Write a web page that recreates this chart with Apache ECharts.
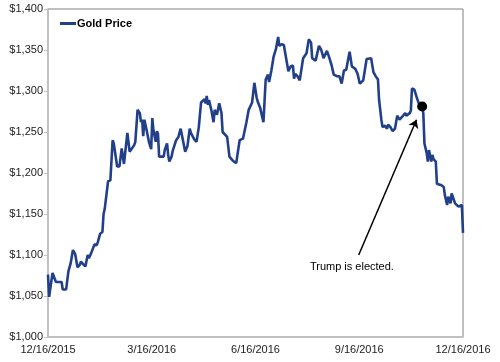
<!DOCTYPE html>
<html>
<head>
<meta charset="utf-8">
<script src="https://cdn.jsdelivr.net/npm/echarts@6/dist/echarts.min.js"></script>
<style>html,body{margin:0;padding:0;background:#fff}#c{width:500px;height:362px}</style>
</head>
<body>
<div id="c"></div>
<script>
// Days since 12/16/2015
const dayOffsets = [0,1,4,7,12,13,16,18,19,20,22,24,25,26,28,29,31,33,35,36,38,41,43,44,46,48,49,50,53,55,57,58,61,63,65,67,70,72,76,77,79,81,82,83,84,85,87,89,91,92,93,95,96,97,98,102,103,105,106,107,109,110,111,113,115,117,118,121,123,125,126,129,131,133,135,136,138,139,140,141,142,144,146,147,149,151,153,154,158,160,163,166,169,172,175,177,180,182,184,185,187,190,192,194,195,197,199,201,203,204,206,208,210,212,214,216,217,218,220,222,225,228,229,230,232,233,236,239,241,243,246,248,250,252,255,257,259,261,263,266,268,271,273,275,278,279,281,285,287,289,291,292,294,295,297,299,300,302,304,306,308,310,312,313,315,316,319,320,321,323,325,327,328,330,331,332,334,335,336,338,339,340,342,343,344,347,349,350,352,353,355,356,357,359,360,362,363,365,366];
const goldPrice = [1076,1049,1078,1067,1067,1058,1058,1080,1078,1090,1106,1101,1101,1085,1088,1092,1089,1086,1100,1096,1102,1113,1112,1116,1126,1128,1150,1156,1190,1191,1240,1236,1208,1208,1230,1211,1249,1226,1234,1238,1277,1273,1262,1265,1245,1265,1252,1238,1229,1267,1252,1238,1251,1248,1220,1220,1228,1236,1222,1214,1220,1227,1225,1240,1244,1254,1252,1226,1233,1254,1249,1241,1238,1256,1286,1286,1290,1285,1294,1283,1289,1277,1262,1277,1271,1285,1273,1250,1244,1220,1215,1212,1240,1242,1262,1277,1286,1310,1292,1287,1280,1262,1314,1320,1311,1325,1342,1351,1366,1355,1357,1356,1340,1324,1330,1331,1315,1321,1318,1313,1340,1346,1348,1363,1359,1340,1337,1355,1350,1340,1349,1341,1332,1320,1318,1318,1309,1325,1326,1348,1330,1327,1321,1309,1313,1314,1339,1340,1323,1318,1314,1289,1265,1256,1258,1254,1259,1256,1251,1254,1270,1265,1268,1266,1273,1270,1273,1276,1303,1302,1293,1285,1283,1281,1273,1236,1224,1214,1228,1214,1222,1217,1214,1187,1185,1185,1183,1173,1161,1171,1163,1175,1171,1163,1161,1159,1157,1161,1127];
const xTickLabels = ['12/16/2015','3/16/2016','6/16/2016','9/16/2016','12/16/2016'];
const electionPoint = [330, 1281];
const annotationText = 'Trump is elected.';
const arrowStart = [274, 1100];
const arrowEnd = [325, 1265];
const textAnchor = [268, 1086];

const seriesData = dayOffsets.map((d, i) => [d, goldPrice[i]]);
const chart = echarts.init(document.getElementById('c'), null, {renderer: 'canvas'});
const FONT = 'Liberation Sans, Arial, sans-serif';
chart.setOption({
  animation: false,
  backgroundColor: '#fff',
  grid: {left: 48, right: 37, top: 9, bottom: 25, show: true, borderColor: '#808080', borderWidth: 1},
  legend: {
    show: true, left: 55, top: 13, itemWidth: 16, itemHeight: 3, itemGap: 2,
    icon: 'rect',
    data: [{name: 'Gold Price', icon: 'rect'}],
    textStyle: {fontFamily: FONT, fontSize: 11, fontWeight: 'bold', color: '#000', padding: [0, 0, 0, -4]}
  },
  xAxis: {
    type: 'value', min: 0, max: 366, interval: 91.5,
    axisLine: {show: true, lineStyle: {color: '#c0c0c0', width: 1.5}},
    axisTick: {show: false},
    splitLine: {show: false},
    axisLabel: {
      fontFamily: FONT, fontSize: 11, color: '#222', margin: 7,
      formatter: v => xTickLabels[Math.round(v / 91.5)] || ''
    }
  },
  yAxis: {
    type: 'value', min: 1000, max: 1400, interval: 50,
    axisLine: {show: true, lineStyle: {color: '#c0c0c0', width: 1.5}},
    axisTick: {show: true, length: 4, lineStyle: {color: '#c0c0c0'}},
    splitLine: {show: false},
    axisLabel: {
      fontFamily: FONT, fontSize: 11, color: '#222', margin: 5,
      formatter: v => '$' + String(v).replace(/\B(?=(\d{3})+(?!\d))/g, ',')
    }
  },
  series: [
    {
      name: 'Gold Price', type: 'line', data: seriesData, symbol: 'none',
      lineStyle: {color: '#22408a', width: 2.6}, itemStyle: {color: '#22408a'},
      z: 3,
      markLine: {
        silent: true, symbol: ['none', 'arrow'], symbolSize: 8,
        lineStyle: {color: '#000', width: 1.5, type: 'solid', opacity: 1},
        itemStyle: {color: '#000'},
        label: {show: false},
        data: [[{coord: arrowStart}, {coord: arrowEnd}]]
      },
      markPoint: {
        silent: true, symbol: 'circle', symbolSize: 0,
        label: {show: true, position: 'inside', formatter: annotationText, fontFamily: FONT, fontSize: 11, color: '#000'},
        data: [{coord: textAnchor}]
      }
    },
    {
      name: 'Election', type: 'scatter', data: [electionPoint], symbol: 'circle', symbolSize: 10,
      itemStyle: {color: '#000', opacity: 1}, z: 4
    }
  ]
});
</script>
</body>
</html>
